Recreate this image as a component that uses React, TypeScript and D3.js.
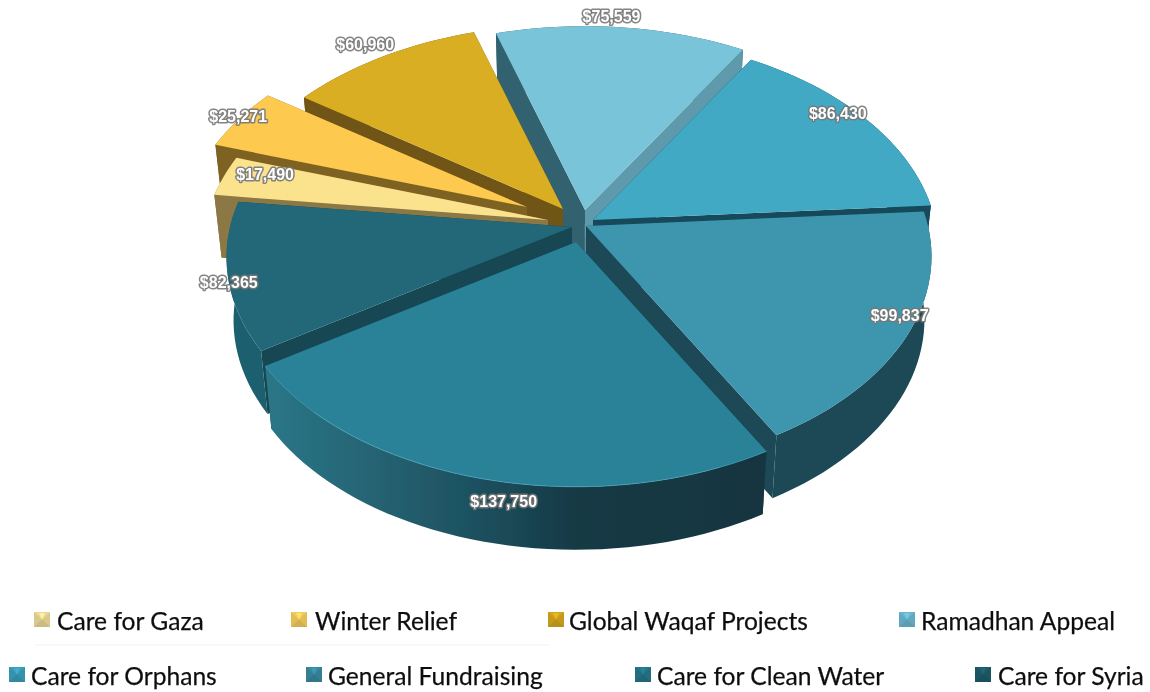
import React from "react";
import * as d3 from "d3";

// ---- data ----
const categories = ["Care for Gaza", "Winter Relief", "Global Waqaf Projects", "Ramadhan Appeal", "Care for Orphans", "General Fundraising", "Care for Clean Water", "Care for Syria"];
const values = [17490, 25271, 60960, 75559, 86430, 99837, 137750, 82365];
const labels = ["$17,490", "$25,271", "$60,960", "$75,559", "$86,430", "$99,837", "$137,750", "$82,365"];

// ---- styling ----
const topColors = ["#fbe38e", "#fdc94f", "#d9ae22", "#79c4d8", "#42a9c4", "#3e95ae", "#2b8298", "#206878"];
const rimColors = ["#8b7845", "#7e6222", "#6f5415", "#2f6270", "#12485a", "#1a4855", "url(#cleanWall)", "#1f5f6e"];
const startWall = ["#8b7845", "#7e6222", "#6f5415", "#33626f", "#12485a", "#12485a", "#1a4855", "#174652"];
const endWall = ["#8b7845", "#7e6222", "#6f5415", "#5e9aac", "#12485a", "#1a4855", "#143a45", "#174652"];
const swatchColors = ["#d9c98a", "#e0bd55", "#c49a1c", "#62a9bf", "#3692ac", "#357f95", "#226d80", "#1c5562"];

// ---- layout ----
const W = 1150, H = 692;
const CX = 578, RX = 342, RY = 210, PERSP = 0.142, DEPTH = 63, SHRINK = 0.98;
// tilted-plane angle at each slice boundary, degrees clockwise from the back of the pie
const angleStops = [277, 288, 305, 342.8, 391.2, 446, 510.8, 597, 637];
// the point each exploded slice pulls toward
const apexX = [548, 527, 563, 585, 593, 586, 576, 572];
const apexY = [220, 207, 209, 210, 220, 226, 242, 227];
const labelDx = [41, -1, -17, -10, -27, -9, 23, 1];
const labelDy = [-2, -2, -12, -11, -5, -18, 23, 7];
const paintOrder = [3, 2, 4, 1, 0, 5, 7, 6];
const legendX = [34, 291, 548, 899, 9, 306, 635, 975];
const legendTextX = [57, 315, 569, 921, 31, 328, 657, 998];
const legendRow = [0, 0, 0, 0, 1, 1, 1, 1];
const rowY = [619, 674];

const cumulative = [0, ...d3.cumsum(values)];
const angleScale = d3.scaleLinear().domain(cumulative).range(angleStops);
const arcs = d3.pie<number>().sort(null).value((d) => d)(values);
const total = d3.sum(values);
const toValue = d3.scaleLinear().domain([0, 2 * Math.PI]).range([0, total]);

type Pt = [number, number];
const rad = (deg: number) => (deg * Math.PI) / 180;
const project = (deg: number, ax: number, ay: number): Pt => {
  const s = Math.sin(rad(deg)), c = Math.cos(rad(deg));
  const w = 1 + PERSP * c;
  return [ax + (RX * s) / w, ay - (RY * c) / w];
};
const drop = (p: Pt): Pt => [CX + (p[0] - CX) * SHRINK, p[1] + DEPTH];
const line = d3.line<Pt>();
const poly = (pts: Pt[]) => line(pts) + "Z";

const slices = arcs.map((a, i) => {
  const t0 = angleScale(toValue(a.startAngle));
  const t1 = angleScale(toValue(a.endAngle));
  const ax = apexX[i], ay = apexY[i];
  const n = Math.max(6, Math.ceil((t1 - t0) / 2));
  const rim: Pt[] = d3.range(n + 1).map((k) => project(t0 + ((t1 - t0) * k) / n, ax, ay));
  const apex: Pt = [ax, ay];
  const midDeg = (t0 + t1) / 2;
  const mid = project(midDeg, ax, ay);
  return {
    i,
    back: Math.cos(rad(midDeg)) > 0,
    top: poly([apex, ...rim]),
    rimPath: line(rim) as string,
    rimWall: poly([...rim, ...rim.slice().reverse().map(drop)]),
    wall0: poly([apex, rim[0], drop(rim[0]), drop(apex)]),
    wall1: poly([apex, rim[n], drop(rim[n]), drop(apex)]),
    label: [mid[0] + labelDx[i], mid[1] + labelDy[i]] as Pt,
  };
});

const Swatch = ({ x, y, color }: { x: number; y: number; color: string }) => {
  const s = 16, h = 15, cx = x + s / 2, cy = y + h / 2;
  const c = d3.color(color)!;
  return (
    <g filter="url(#swatchBlur)">
      <path d={poly([[x, y], [x + s, y], [x + s, y + h], [x, y + h]])} fill={color} />
      <path d={poly([[x, y], [x + s, y], [cx, cy]])} fill={c.brighter(0.2).formatHex()} />
      <path d={poly([[x, y + h], [x + s, y + h], [cx, cy]])} fill={c.darker(0.2).formatHex()} />
      <path d={poly([[x + s * 0.3, y + 1], [x + s * 0.7, y + 1], [cx, cy]])} fill={c.brighter(0.5).formatHex()} />
    </g>
  );
};

export default function App() {
  return (
    <svg width={W} height={H} viewBox={`0 0 ${W} ${H}`} style={{ position: "absolute", left: 0, top: 0, background: "#fff" }}>
      <defs>
        <linearGradient id="cleanWall" gradientUnits="userSpaceOnUse" x1={265} x2={768} y1={0} y2={0}>
          <stop offset="0" stopColor="#2a7788" />
          <stop offset="0.25" stopColor="#246070" />
          <stop offset="0.47" stopColor="#1b4b59" />
          <stop offset="0.61" stopColor="#153a45" />
          <stop offset="1" stopColor="#13353f" />
        </linearGradient>
        <filter id="soft" x="-5%" y="-5%" width="110%" height="110%">
          <feGaussianBlur stdDeviation="0.6" />
        </filter>
        <filter id="softText" x="-5%" y="-30%" width="110%" height="160%">
          <feGaussianBlur stdDeviation="0.35" />
        </filter>
        <filter id="swatchBlur" x="-20%" y="-20%" width="140%" height="140%">
          <feGaussianBlur stdDeviation="0.7" />
        </filter>
      </defs>
      <g filter="url(#soft)">
        {paintOrder.map((idx) => {
          const s = slices[idx];
          return (
            <g key={idx}>
              {s.back && <path d={s.rimWall} fill={rimColors[idx]} />}
              <path d={s.wall0} fill={startWall[idx]} />
              <path d={s.wall1} fill={endWall[idx]} />
              {!s.back && <path d={s.rimWall} fill={rimColors[idx]} />}
              <path d={s.top} fill={topColors[idx]} />
              {idx === 6 && <path d={s.rimPath} fill="none" stroke="#46a0b6" strokeWidth={0.8} />}
            </g>
          );
        })}
      </g>
      <g filter="url(#softText)" fontFamily="'Liberation Sans', Arial, sans-serif" fontWeight="bold" fontSize={16} textAnchor="middle">
        {slices.map((s) => (
          <text
            key={s.i}
            x={s.label[0]}
            y={s.label[1]}
            dy="0.35em"
            fill="#fff"
            stroke="#777"
            strokeOpacity={0.9}
            strokeWidth={3}
            strokeLinejoin="round"
            style={{ paintOrder: "stroke" }}
          >
            {labels[s.i]}
          </text>
        ))}
      </g>
      <line x1={35} x2={550} y1={645} y2={645} stroke="#f3f3f3" strokeWidth={1} />
      {categories.map((c, i) => (
        <Swatch key={c} x={legendX[i]} y={rowY[legendRow[i]] - 7} color={swatchColors[i]} />
      ))}
      <g filter="url(#softText)">
        {categories.map((c, i) => (
          <text key={c} x={legendTextX[i]} y={rowY[legendRow[i]] + 11} fontFamily="Lato, 'Noto Sans', sans-serif" fontSize={24.6} fill="#111" stroke="#111" strokeWidth={0.25}>
            {c}
          </text>
        ))}
      </g>
    </svg>
  );
}
